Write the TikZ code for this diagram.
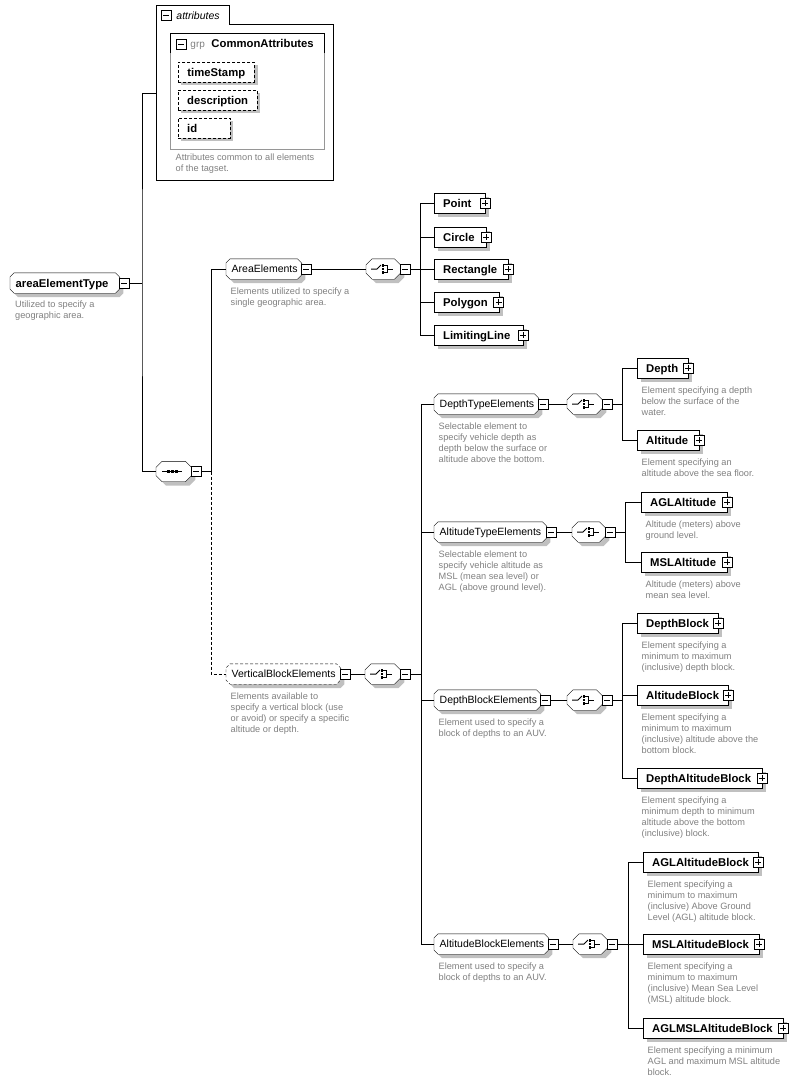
\documentclass[tikz,border=0pt]{standalone}
\usepackage{fontspec}
\setmainfont{Liberation Sans}
\usetikzlibrary{calc}
\pgfdeclarelayer{bg}
\pgfsetlayers{bg,main}
\definecolor{shd}{RGB}{192,192,192}
\definecolor{dsc}{RGB}{128,128,128}
\definecolor{gbd}{RGB}{150,150,150}
\newcommand\chp[2]{($(#1.north west)+(#2,0)$) -- ($(#1.north east)+(-#2,0)$) -- ($(#1.north east)+(0,#2)$) -- ($(#1.south east)+(0,-#2)$) -- ($(#1.south east)+(-#2,0)$) -- ($(#1.south west)+(#2,0)$) -- ($(#1.south west)+(0,-#2)$) -- ($(#1.north west)+(0,#2)$) -- cycle}
\newcommand\leaf[5]{%
  \pgfmathsetmacro\mylw{#3-#2}%
  \node[leafbox, minimum width=\mylw pt, text width=\mylw pt] (#1) at (#2,#4) {\noindent\hspace*{9pt}#5};
  \node[plusb] (#1p) at (#1.east) {};
  \begin{pgfonlayer}{bg}\fill[shd] ($(#1.north west)+(4,4)$) rectangle ($(#1.south east)+(4,4)$);\end{pgfonlayer}}
\newcommand\attr[5]{%
  \pgfmathsetmacro\mylw{#3-#2}%
  \node[leafbox, dsh, minimum width=\mylw pt, text width=\mylw pt] (#1) at (#2,#4) {\noindent\hspace*{9pt}#5};
  \begin{pgfonlayer}{bg}\fill[shd] ($(#1.north west)+(3,3)$) rectangle ($(#1.south east)+(3,3)$);\end{pgfonlayer}}
\newcommand\grp[7]{%
  \pgfmathsetmacro\mylw{#3-#2}%
  \node[grpbox, minimum width=\mylw pt, text width=\mylw pt, #7] (#1) at (#2,#4) {\noindent\hspace*{5.5pt}#5};
  \node[minusb] (#1m) at ($(#1.east)+(5,0)$) {};
  \begin{pgfonlayer}{bg}
    \fill[shd, transform canvas={shift={(4pt,-4pt)}}] \chp{#1}{4};
    \filldraw[fill=white, #6] \chp{#1}{4};
  \end{pgfonlayer}}
\newcommand\iconchoice[1]{%
  \draw[line width=1pt] ($(#1.west)+(5,0)$) -- ++(6,0) -- ++(4,-4);
  \foreach \dy in {-3.5,0,3.5} \fill ($(#1.west)+(15.5,\dy-1.25)$) rectangle ++(2.5,2.5);
  \draw[line width=1pt] ($(#1.west)+(18,-3.5)$) -- ++(3.5,0) -- ++(0,7) -- ++(-3.5,0) ($(#1.west)+(21.5,0)$) -- ++(5,0);}
\newcommand\iconseq[1]{%
  \draw[line width=1pt] ($(#1.west)+(6,0)$) -- ++(20,0);
  \foreach \dx in {11,14.75,18.5} \fill ($(#1.west)+(\dx,-1.5)$) rectangle ++(3,3);}
\newcommand\comp[5]{%
  \pgfmathsetmacro\mylw{#3-#2}%
  \node[compbox, minimum width=\mylw pt] (#1) at (#2,#4) {};
  \node[minusb] (#1m) at ($(#1.east)+(5,0)$) {};
  \begin{pgfonlayer}{bg}
    \fill[shd, transform canvas={shift={(4pt,-4pt)}}] \chp{#1}{6};
    \filldraw[fill=white] \chp{#1}{6};
  \end{pgfonlayer}
  \csname icon#5\endcsname{#1}}
\begin{document}
\begin{tikzpicture}[x=1pt,y=-1pt, line width=0.9pt,
  leafbox/.style={draw, fill=white, anchor=west, inner sep=0pt, minimum height=20pt, align=left, text height=10pt, text depth=2pt, font=\fontsize{11.3}{13}\selectfont\bfseries},
  grpbox/.style={anchor=west, inner sep=0pt, minimum height=20pt, align=left, text height=9.4pt, text depth=2pt, font=\fontsize{10.5}{12}\selectfont},
  compbox/.style={anchor=west, inner sep=0pt, minimum height=20pt},
  pmb/.style={draw, fill=white, minimum size=10pt, inner sep=0pt, line width=0.9pt},
  minusb/.style={pmb, path picture={\draw[line width=0.9pt] ($(path picture bounding box.west)+(2,0)$) -- ($(path picture bounding box.east)+(-2,0)$);}},
  plusb/.style={pmb, path picture={\draw[line width=0.9pt] ($(path picture bounding box.west)+(2,0)$) -- ($(path picture bounding box.east)+(-2,0)$) ($(path picture bounding box.north)+(0,2)$) -- ($(path picture bounding box.south)+(0,-2)$);}},
  desc/.style={anchor=north west, inner sep=0pt, align=left, text=dsc, font=\fontsize{9.2}{11}\selectfont},
  dsh/.style={dash pattern=on 3pt off 2pt},
]
\useasboundingbox (0,0) rectangle (797,1082);

% ---------- attributes ----------
\node[anchor=north west, inner sep=0pt, minimum width=177pt, minimum height=175pt] (attrs) at (156,5) {};
\draw (156,180) -- (156,5) -- (229,5) -- (229,24) -- (333,24) -- (333,180) -- cycle;
\node[minusb] (attrsm) at (166,15.5) {};
\node[anchor=base west, inner sep=0pt, font=\fontsize{10.5}{12}\selectfont\itshape] (attrst) at (176,19) {attributes};
\draw[gbd] (170,33) rectangle (324,149);
\draw (170,53) -- (170,33) -- (324,33) -- (324,53);
\node[minusb] (cam) at (181,44) {};
\node[anchor=base west, inner sep=0pt, text=dsc, font=\fontsize{10}{12}\selectfont] (grpt) at (190,47.5) {grp};
\node[anchor=base west, inner sep=0pt, font=\fontsize{11.3}{13}\selectfont\bfseries] (cat) at (211,47.5) {CommonAttributes};
\attr{ts}{178}{254}{72}{timeStamp}
\attr{de}{178}{257}{100}{description}
\attr{idn}{178}{230}{128}{id}
\node[desc] (attrd) at (175.5,152.8) {\strut Attributes common to all elements\\of the tagset.};

% ---------- root ----------
\grp{aet}{10}{119}{283}{areaElementType}{}{font=\fontsize{11.3}{13}\selectfont\bfseries, text height=10pt}
\node[desc] (aetd) at (15,300) {\strut Utilized to specify a\\geographic area.};

\comp{seq}{156}{191}{471.5}{seq}

\grp{area}{226}{301}{269}{AreaElements}{}{}
\node[desc] (aread) at (230.5,286.8) {\strut Elements utilized to specify a\\single geographic area.};
\comp{ca}{366}{400}{269}{choice}

\leaf{point}{434}{485}{203}{Point}
\leaf{circle}{434}{486}{237}{Circle}
\leaf{rect}{434}{508}{269}{Rectangle}
\leaf{poly}{434}{498.5}{302}{Polygon}
\leaf{lim}{434}{523}{335}{LimitingLine}

\grp{vbe}{226}{340}{674}{VerticalBlockElements}{dsh}{}
\node[desc] (vbed) at (230.5,691.8) {\strut Elements available to\\specify a vertical block (use\\or avoid) or specify a specific\\altitude or depth.};
\comp{cv}{365}{400}{674}{choice}

% ---------- DepthTypeElements ----------
\grp{dte}{434}{538}{404}{DepthTypeElements}{}{}
\node[desc] (dted) at (438.5,421.8) {\strut Selectable element to\\specify vehicle depth as\\depth below the surface or\\altitude above the bottom.};
\comp{cdt}{567}{602}{404}{choice}
\leaf{depth}{637}{688}{368}{Depth}
\node[desc] (depthd) at (641.5,385.8) {\strut Element specifying a depth\\below the surface of the\\water.};
\leaf{alt}{637}{699}{440}{Altitude}
\node[desc] (altd) at (641.5,457.8) {\strut Element specifying an\\altitude above the sea floor.};

% ---------- AltitudeTypeElements ----------
\grp{ate}{434}{546}{532}{AltitudeTypeElements}{}{}
\node[desc] (ated) at (438.5,549.8) {\strut Selectable element to\\specify vehicle altitude as\\MSL (mean sea level) or\\AGL (above ground level).};
\comp{cat2}{572}{605}{532}{choice}
\leaf{agla}{641}{727}{502}{AGLAltitude}
\node[desc] (aglad) at (645.5,519.8) {\strut Altitude (meters) above\\ground level.};
\leaf{msla}{641}{727}{562}{MSLAltitude}
\node[desc] (mslad) at (645.5,579.8) {\strut Altitude (meters) above\\mean sea level.};

% ---------- DepthBlockElements ----------
\grp{dbe}{434}{540}{700}{DepthBlockElements}{}{}
\node[desc] (dbed) at (438.5,717.8) {\strut Element used to specify a\\block of depths to an AUV.};
\comp{cdb}{567}{602}{700}{choice}
\leaf{db}{637}{718}{623}{DepthBlock}
\node[desc] (dbd) at (641.5,640.8) {\strut Element specifying a\\minimum to maximum\\(inclusive) depth block.};
\leaf{ab}{637}{728}{695}{AltitudeBlock}
\node[desc] (abd) at (641.5,712.8) {\strut Element specifying a\\minimum to maximum\\(inclusive) altitude above the\\bottom block.};
\leaf{dab}{637}{762}{778}{DepthAltitudeBlock}
\node[desc] (dabd) at (641.5,795.8) {\strut Element specifying a\\minimum depth to minimum\\altitude above the bottom\\(inclusive) block.};

% ---------- AltitudeBlockElements ----------
\grp{abe}{434}{548}{944}{AltitudeBlockElements}{}{}
\node[desc] (abed) at (438.5,961.8) {\strut Element used to specify a\\block of depths to an AUV.};
\comp{cab}{573}{607}{944}{choice}
\leaf{aglab}{643}{758}{862}{AGLAltitudeBlock}
\node[desc] (aglabd) at (647.5,879.8) {\strut Element specifying a\\minimum to maximum\\(inclusive) Above Ground\\Level (AGL) altitude block.};
\leaf{mslab}{643}{759}{944}{MSLAltitudeBlock}
\node[desc] (mslabd) at (647.5,961.8) {\strut Element specifying a\\minimum to maximum\\(inclusive) Mean Sea Level\\(MSL) altitude block.};
\leaf{aglmsl}{643}{783}{1028}{AGLMSLAltitudeBlock}
\node[desc] (aglmsld) at (647.5,1045.8) {\strut Element specifying a minimum\\AGL and maximum MSL altitude\\block.};

% ---------- connectors ----------
\coordinate (j1) at (142,283);
\draw (aetm.east) -- (j1);
\draw (attrs.west) -| (j1) |- (seq.west);
\coordinate (j2) at (211,471.5);
\draw (seqm.east) -- (j2);
\draw (j2) |- (area.west);
\draw[dsh] (j2) |- (vbe.west);

\draw (aream.east) -- (ca.west);
\coordinate (j3) at (420,269);
\draw (cam.east) -- (j3);
\foreach \n in {point,circle,rect,poly,lim} \draw (j3) |- (\n.west);

\draw (vbem.east) -- (cv.west);
\coordinate (j4) at (421,674);
\draw (cvm.east) -- (j4);
\foreach \n in {dte,ate,dbe,abe} \draw (j4) |- (\n.west);

\draw (dtem.east) -- (cdt.west);
\coordinate (j5) at (622,404);
\draw (cdtm.east) -- (j5);
\foreach \n in {depth,alt} \draw (j5) |- (\n.west);

\draw (atem.east) -- (cat2.west);
\coordinate (j6) at (625,532);
\draw (cat2m.east) -- (j6);
\foreach \n in {agla,msla} \draw (j6) |- (\n.west);

\draw (dbem.east) -- (cdb.west);
\coordinate (j7) at (622,700);
\draw (cdbm.east) -- (j7);
\foreach \n in {db,ab,dab} \draw (j7) |- (\n.west);

\draw (abem.east) -- (cab.west);
\coordinate (j8) at (628,944);
\draw (cabm.east) -- (j8);
\foreach \n in {aglab,mslab,aglmsl} \draw (j8) |- (\n.west);
\end{tikzpicture}
\end{document}
